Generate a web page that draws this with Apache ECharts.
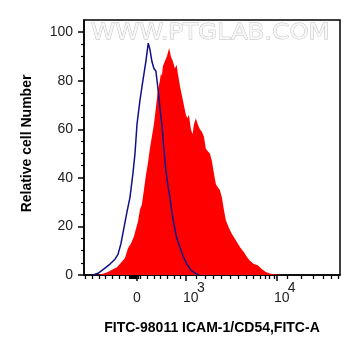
<!DOCTYPE html>
<html><head><meta charset="utf-8">
<script src="https://cdn.jsdelivr.net/npm/echarts@6/dist/echarts.min.js"></script>
<style>html,body{margin:0;padding:0;background:#fff}#c{width:361px;height:356px}</style>
</head><body><div id="c"></div>
<script>
// x values are in display (decade) units of the biexponential axis: 10^3 -> 3, 10^4 -> 4
const blueX = [1.978,2.033,2.099,2.165,2.220,2.253,2.286,2.319,2.352,2.385,2.418,2.440,2.462,2.495,2.527,2.560,2.586,2.604,2.626,2.648,2.670,2.692,2.714,2.736,2.758,2.780,2.802,2.824,2.846,2.868,2.901,2.934,2.967,3.011,3.055,3.099,3.143];
const blueY = [0,0.7,2.5,4.5,6.5,8.5,13,19.5,26,32,42,50,62,72,80,88,95.5,93,88,85,84,77,69,62,52,43,37,32,26,21,15,11.5,8,4.5,2,0.8,0];
const redX = [2.022,2.088,2.143,2.187,2.242,2.286,2.330,2.363,2.396,2.429,2.451,2.473,2.495,2.516,2.538,2.560,2.582,2.604,2.626,2.648,2.670,2.692,2.714,2.725,2.736,2.747,2.769,2.791,2.816,2.835,2.857,2.879,2.898,2.912,2.934,2.956,2.978,3.000,3.016,3.033,3.055,3.074,3.088,3.110,3.132,3.154,3.176,3.198,3.220,3.242,3.264,3.286,3.308,3.330,3.352,3.374,3.396,3.418,3.440,3.473,3.505,3.538,3.571,3.604,3.637,3.670,3.703,3.747,3.791,3.835,3.879,3.923,3.978,4.055];
const redY = [0,0.5,1.2,2.2,3.2,5,7,11,13,16,19,22,27,29,35,41,46,52,57,62,69,76,80,83,82,86,88,90,93.5,90,88,85,86.6,83,78,74,70,66,64.5,66,60,58,62,64.5,62,60,59,57,52,51,50,47,42,37.5,36,35,32,27,22.5,19.5,17,15,13,11,9.5,7.5,6,4.5,4,2.5,1.2,0.6,0.2,0];
const xMajorTicks = [2.462, 3, 4];
const xMajorLabels = ['0', '10|3', '10|4'];
const xMinorTicks = [1.898,1.970,2.044,2.118,2.190,2.264,2.337,2.374,2.385,2.396,2.407,2.418,2.429,2.440,2.451,2.473,2.502,2.575,2.648,2.722,2.795,2.868,2.942,3.118,3.209,3.300,3.392,3.484,3.575,3.667,3.740,3.813,3.868,3.915,3.967,4.121,4.271,4.398,4.508,4.600,4.673];
const yMajorTicks = [0,20,40,60,80,100];
const yMinorTicks = [5,10,15,25,30,35,45,50,55,65,70,75,85,90,95];

const FONT = 'Liberation Sans';
const zip = (a, b) => a.map((v, i) => [v, b[i]]);

const chart = echarts.init(document.getElementById('c'));
const xCommon = { type: 'value', min: 1.879, max: 4.696, splitLine: { show: false }, gridIndex: 0 };
const yCommon = { type: 'value', min: 0, max: 105, splitLine: { show: false }, gridIndex: 0 };
chart.setOption({
  animation: false,
  backgroundColor: '#fff',
  grid: { left: 84, right: 21, top: 20, bottom: 81, show: true, borderColor: '#000', borderWidth: 1.5, backgroundColor: 'transparent' },
  graphic: [{
    type: 'text', x: 91, y: 22, scaleX: 1.11, z: 0,
    style: { text: 'WWW.PTGLAB.COM', font: '22px "DejaVu Sans"', fill: '#f7f7f7', stroke: '#bdbdbd', lineWidth: 0.8 }
  }],
  xAxis: [
    Object.assign({}, xCommon, {
      position: 'bottom',
      axisLine: { show: true, lineStyle: { color: '#000', width: 1.5 } },
      axisTick: { show: true, customValues: xMajorTicks, length: 6, lineStyle: { color: '#000', width: 1.5 } },
      axisLabel: {
        show: true, customValues: xMajorTicks, margin: 10, color: '#222', fontFamily: FONT, fontSize: 14,
        formatter: function (v) {
          let i = 0, best = 1e9;
          xMajorTicks.forEach((t, k) => { if (Math.abs(t - v) < best) { best = Math.abs(t - v); i = k; } });
          const lab = xMajorLabels[i];
          if (lab.indexOf('|') < 0) return '{e| }\n{z|' + lab + '}';
          const p = lab.split('|');
          return '{s|' + p[1] + '}\n{b|' + p[0] + '}';
        },
        rich: {
          e: { fontSize: 14, fontFamily: FONT, color: '#222', lineHeight: 6 },
          z: { fontSize: 14, fontFamily: FONT, color: '#222', lineHeight: 14 },
          b: { fontSize: 14, fontFamily: FONT, color: '#222', lineHeight: 14, padding: [0, 0, 0, 10] },
          s: { fontSize: 14, fontFamily: FONT, color: '#222', lineHeight: 6, padding: [0, 0, 0, 30] }
        }
      },
      name: 'FITC-98011 ICAM-1/CD54,FITC-A', nameLocation: 'middle', nameGap: 46,
      nameTextStyle: { fontFamily: FONT, fontSize: 14, fontWeight: 'bold', color: '#000' }
    }),
    Object.assign({}, xCommon, {
      position: 'bottom',
      axisLine: { show: false },
      axisTick: { show: true, customValues: xMinorTicks, length: 4, lineStyle: { color: '#000', width: 1.3 } },
      axisLabel: { show: false }
    })
  ],
  yAxis: [
    Object.assign({}, yCommon, {
      position: 'left',
      axisLine: { show: true, lineStyle: { color: '#000', width: 1.5 } },
      axisTick: { show: true, customValues: yMajorTicks, length: 6, lineStyle: { color: '#000', width: 1.5 } },
      axisLabel: { show: true, customValues: yMajorTicks, margin: 11, color: '#222', fontFamily: FONT, fontSize: 14 },
      name: 'Relative cell Number', nameLocation: 'middle', nameGap: 50,
      nameTextStyle: { fontFamily: FONT, fontSize: 14, fontWeight: 'bold', color: '#000', padding: [0, 0, 0, 8] }
    }),
    Object.assign({}, yCommon, {
      position: 'left',
      axisLine: { show: false },
      axisTick: { show: true, customValues: yMinorTicks, length: 3, lineStyle: { color: '#000', width: 1.2 } },
      axisLabel: { show: false }
    })
  ],
  series: [
    {
      type: 'line', xAxisIndex: 0, yAxisIndex: 0, data: zip(redX, redY), symbol: 'none', smooth: false,
      lineStyle: { width: 0, color: '#ff0000' }, itemStyle: { color: '#ff0000' },
      areaStyle: { color: '#ff0000', opacity: 1 }, z: 2
    },
    {
      type: 'line', xAxisIndex: 0, yAxisIndex: 0, data: zip(blueX, blueY), symbol: 'none', smooth: false,
      lineStyle: { width: 1.5, color: '#10108a' }, itemStyle: { color: '#10108a' }, z: 3
    }
  ]
});
</script></body></html>
